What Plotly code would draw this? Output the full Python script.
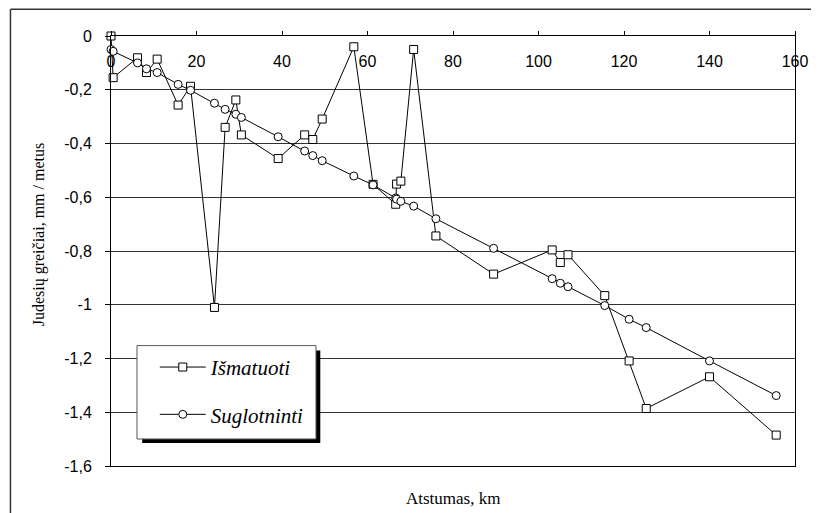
import plotly.graph_objects as go

# distances along the profile (km)
atstumas = [0, 0.5, 6.2, 8.3, 10.8, 15.7, 18.6, 24.2, 26.7, 29.2, 30.5, 39.1, 45.3, 47.2,
            49.4, 56.8, 61.3, 66.6, 66.8, 67.8, 70.8, 76.0, 89.5, 103.2, 105.1, 106.9,
            115.5, 121.2, 125.2, 140.0, 155.6]

# measured velocities (mm/year)
ismatuoti = [0, -0.155, -0.081, -0.136, -0.086, -0.257, -0.187, -1.01, -0.34, -0.238,
             -0.368, -0.456, -0.368, -0.385, -0.309, -0.040, -0.552, -0.626, -0.551,
             -0.540, -0.050, -0.744, -0.886, -0.796, -0.843, -0.814, -0.966, -1.209,
             -1.386, -1.268, -1.485]

# smoothed velocities (mm/year)
suglotninti = [-0.050, -0.057, -0.100, -0.122, -0.136, -0.180, -0.202, -0.250, -0.273,
               -0.291, -0.303, -0.375, -0.428, -0.445, -0.464, -0.521, -0.554, -0.603,
               -0.607, -0.615, -0.633, -0.680, -0.790, -0.903, -0.920, -0.933, -1.003,
               -1.054, -1.085, -1.209, -1.338]

x_ticks = [0, 20, 40, 60, 80, 100, 120, 140, 160]
y_ticks = [0, -0.2, -0.4, -0.6, -0.8, -1, -1.2, -1.4, -1.6]
y_tick_text = ["0", "-0,2", "-0,4", "-0,6", "-0,8", "-1", "-1,2", "-1,4", "-1,6"]

serif = "Liberation Serif, Times New Roman, serif"
sans = "Liberation Sans, Arial, sans-serif"

fig = go.Figure()

fig.add_trace(go.Scatter(
    x=atstumas, y=ismatuoti, mode="lines+markers", name="Išmatuoti",
    legendgroup="a", cliponaxis=False,
    line=dict(color="black", width=1),
    marker=dict(symbol="square", size=8, color="white", line=dict(color="black", width=1))
))

fig.add_trace(go.Scatter(
    x=atstumas, y=suglotninti, mode="lines+markers", name="Suglotninti",
    legendgroup="b", cliponaxis=False,
    line=dict(color="black", width=1),
    marker=dict(symbol="circle", size=8, color="white", line=dict(color="black", width=1))
))

# legend frame with drop shadow
fig.add_shape(type="rect", xref="x", yref="y", x0=7.3, x1=48.96, y0=-1.17, y1=-1.514,
              fillcolor="black", line=dict(width=0), layer="above")
fig.add_shape(type="rect", xref="x", yref="y", x0=6.08, x1=47.95, y0=-1.152, y1=-1.4995,
              fillcolor="white", line=dict(color="#555", width=1), layer="above")

# outer chart frame (top and left edges)
fig.add_shape(type="line", xref="paper", yref="paper", x0=-0.147, x1=1.05, y0=1.0625, y1=1.0625,
              line=dict(color="#333", width=1.5))
fig.add_shape(type="line", xref="paper", yref="paper", x0=-0.147, x1=-0.147, y0=1.0625, y1=-0.11,
              line=dict(color="#333", width=1.5))

fig.add_annotation(text="Judesių greičiai, mm / metus", xref="paper", yref="paper",
                   x=-0.1048, y=0.5395, textangle=-90, showarrow=False,
                   xanchor="center", yanchor="middle",
                   font=dict(family=serif, size=16, color="black"))
fig.add_annotation(text="Atstumas, km", xref="paper", yref="paper",
                   x=0.5004, y=-0.0767, showarrow=False,
                   xanchor="center", yanchor="middle",
                   font=dict(family=serif, size=17, color="black"))

# page body has an 8px margin, so the figure is a bit smaller than the window
fig.update_layout(
    width=811, height=505, autosize=False,
    margin=dict(l=103, r=24, t=28, b=47),
    paper_bgcolor="white", plot_bgcolor="white",
    showlegend=True,
    legend=dict(x=0.064, y=0.277, xanchor="left", yanchor="top",
                bgcolor="rgba(0,0,0,0)", borderwidth=0,
                traceorder="grouped", tracegroupgap=17, itemwidth=46,
                font=dict(family=serif, size=21, color="black", style="italic")),
    xaxis=dict(range=[0, 160], side="top", tickvals=x_ticks,
               ticks="outside", ticklen=4, tickcolor="black",
               ticklabelposition="inside", ticklabelstandoff=20, ticklabeloverflow="allow",
               showline=True, linecolor="black", linewidth=1, mirror=True,
               showgrid=False, zeroline=False,
               tickfont=dict(family=sans, size=16, color="black")),
    yaxis=dict(range=[-1.6, 0], tickvals=y_ticks, ticktext=y_tick_text,
               ticks="outside", ticklen=5, tickcolor="black", ticklabelstandoff=10,
               showline=True, linecolor="black", linewidth=1, mirror=True,
               showgrid=True, gridcolor="#333", gridwidth=1, zeroline=False,
               tickfont=dict(family=sans, size=16, color="black")),
)

fig.write_html("out.html")
